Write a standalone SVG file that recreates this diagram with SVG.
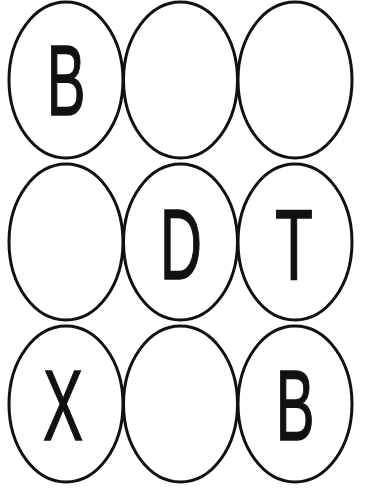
<svg xmlns="http://www.w3.org/2000/svg" width="372" height="497" viewBox="0 0 372 497">
<style>
.cell{fill:#fff;stroke:#111;stroke-width:3}
.lbl{font-family:"Liberation Sans",Arial,sans-serif;font-size:100px;fill:#111;stroke:#111;stroke-width:1.4;text-anchor:middle}
</style>
<rect width="372" height="497" fill="#fff"/>
<g id="connectors"></g>
<g id="n11"><ellipse class="cell" cx="66" cy="80" rx="57" ry="78"/><text class="lbl" transform="translate(66,115) scale(0.58,1)">B</text></g>
<g id="n12"><ellipse class="cell" cx="180.5" cy="80" rx="57" ry="78"/></g>
<g id="n13"><ellipse class="cell" cx="295" cy="80" rx="57" ry="78"/></g>
<g id="n21"><ellipse class="cell" cx="66" cy="242" rx="57" ry="78"/></g>
<g id="n22"><ellipse class="cell" cx="180.5" cy="242" rx="57" ry="78"/><text class="lbl" transform="translate(181,279) scale(0.58,1)">D</text></g>
<g id="n23"><ellipse class="cell" cx="295" cy="242" rx="57" ry="78"/><text class="lbl" transform="translate(294,279) scale(0.62,1)">T</text></g>
<g id="n31"><ellipse class="cell" cx="66" cy="404" rx="57" ry="78"/><text class="lbl" transform="translate(63,440) scale(0.6,1)">X</text></g>
<g id="n32"><ellipse class="cell" cx="180.5" cy="404" rx="57" ry="78"/></g>
<g id="n33"><ellipse class="cell" cx="295" cy="404" rx="57" ry="78"/><text class="lbl" transform="translate(295,440) scale(0.58,1)">B</text></g>
</svg>
